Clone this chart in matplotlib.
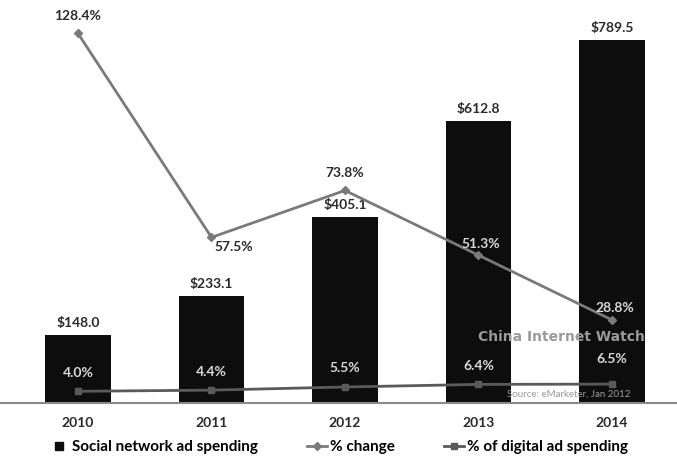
import matplotlib.pyplot as plt
from matplotlib.lines import Line2D

years = ["2010", "2011", "2012", "2013", "2014"]
spending = [148.0, 233.1, 405.1, 612.8, 789.5]
pct_change = [128.4, 57.5, 73.8, 51.3, 28.8]
pct_digital = [4.0, 4.4, 5.5, 6.4, 6.5]

plt.rcParams['font.family'] = ['Lato', 'DejaVu Sans']
txt = "#2b2b2b"

fig = plt.figure(figsize=(6.77, 4.63), dpi=100)
ax = fig.add_axes([0.0, 0.13, 1.0, 0.87])
ax2 = ax.twinx()
x = list(range(len(years)))

ax.bar(x, spending, width=0.49, color="#0d0d0d", zorder=2)
ax.set_ylim(0, 876)
ax.set_xlim(-0.584, 4.487)
ax2.set_ylim(0, 140)

ax2.plot(x, pct_change, color="#7a7a7a", lw=2, marker="D", ms=4, zorder=3)
ax2.plot(x, pct_digital, color="#5a5a5a", lw=2, marker="s", ms=4, zorder=3)

# bar value labels
for i, v in enumerate(spending):
    ax.annotate(f"${v:.1f}", (i, v), xytext=(0, 4), textcoords="offset points",
                ha="center", va="bottom", fontsize=10, fontweight="bold", color=txt)

# % change labels
chg_off = [(0, 8), (16, -7), (0, 8), (2, 4), (2, 4)]
for i, v in enumerate(pct_change):
    inside = v * 876 / 140 < spending[i]
    ax2.annotate(f"{v:.1f}%", (i, v), xytext=chg_off[i], textcoords="offset points",
                 ha="center", va="bottom" if chg_off[i][1] > 0 else "center",
                 fontsize=10, fontweight="bold",
                 color="#d9d9d9" if inside else txt, zorder=5)

# % of digital labels
dig_off = [9, 9, 9, 9, 14]
for i, v in enumerate(pct_digital):
    ax2.annotate(f"{v:.1f}%", (i, v), xytext=(0, dig_off[i]), textcoords="offset points",
                 ha="center", va="bottom", fontsize=10, fontweight="bold",
                 color="#d9d9d9", zorder=5)

# watermark
fig.text(0.83, 0.272, "China Internet Watch", ha="center", va="center", fontsize=10,
         fontweight="bold", color="#9a9a9a", family="DejaVu Sans", zorder=6)
fig.text(0.84, 0.148, "Source: eMarketer, Jan 2012", ha="center", va="center", fontsize=7,
         color="#9a9a9a", zorder=6)

for a in (ax, ax2):
    for s in a.spines.values():
        s.set_visible(False)
    a.set_yticks([])
ax.spines["bottom"].set_visible(True)
ax.spines["bottom"].set_color("#8a8a8a")
ax.spines["bottom"].set_linewidth(1.5)
ax.set_xticks(x)
ax.set_xticklabels(years, fontsize=10, fontweight="bold", color=txt)
ax.tick_params(axis="x", length=0, pad=10)

handles = [
    Line2D([], [], color="#0d0d0d", lw=0, marker="s", ms=6, label="Social network ad spending"),
    Line2D([], [], color="#7a7a7a", lw=2, marker="D", ms=4, label="% change"),
    Line2D([], [], color="#5a5a5a", lw=2, marker="s", ms=4, label="% of digital ad spending"),
]
fig.legend(handles=handles, loc="lower center", bbox_to_anchor=(0.5, -0.01), ncol=3,
           frameon=False, handlelength=1.3, handletextpad=0.2,
           columnspacing=3.2, prop={"weight": "bold", "size": 11})

fig.savefig("out.png", dpi=100, facecolor="white")
